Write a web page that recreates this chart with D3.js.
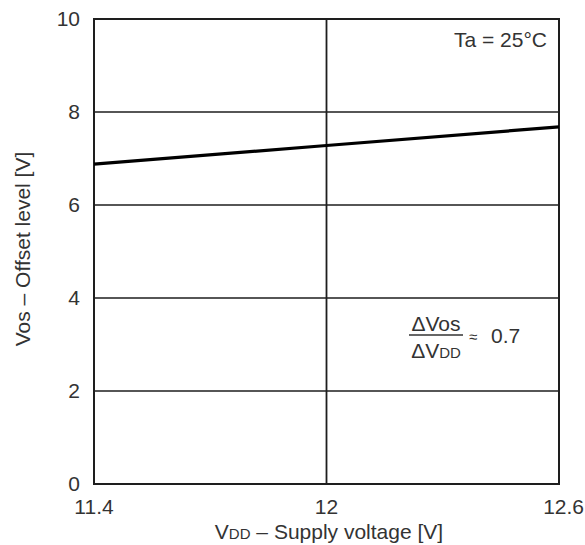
<!DOCTYPE html>
<html><head><meta charset="utf-8">
<script src="https://cdn.jsdelivr.net/npm/d3@7"></script>
<style>body{margin:0;background:#fff}svg{display:block}text{font-family:"Liberation Sans",Arial,sans-serif;fill:#333}</style>
</head><body><svg id="c" width="585" height="545"></svg>
<script>
const xTicks = [11.4, 12, 12.6];
const xTickLabels = ["11.4", "12", "12.6"];
const yTicks = [0, 2, 4, 6, 8, 10];
const yTickLabels = ["0", "2", "4", "6", "8", "10"];
const vddValues = [11.4, 12.0, 12.6];
const vosValues = [6.88, 7.28, 7.68];

const svg = d3.select("#c");
const L = 94, R = 559, T = 19, B = 484;
const x = d3.scaleLinear().domain([11.4, 12.6]).range([L, R]);
const y = d3.scaleLinear().domain([0, 10]).range([B, T]);
const fs = 21;

// horizontal gridlines
svg.selectAll("line.hg").data(yTicks.filter(d => d > 0 && d < 10)).enter().append("line")
  .attr("x1", L).attr("x2", R).attr("y1", d => y(d)).attr("y2", d => y(d))
  .attr("stroke", "#1e1e1e").attr("stroke-width", 1.6);
// vertical gridlines
svg.selectAll("line.vg").data(xTicks.filter(d => d > 11.4 && d < 12.6)).enter().append("line")
  .attr("y1", T).attr("y2", B).attr("x1", d => x(d)).attr("x2", d => x(d))
  .attr("stroke", "#1e1e1e").attr("stroke-width", 1.8);
// frame
svg.append("rect").attr("x", L).attr("y", T).attr("width", R - L).attr("height", B - T)
  .attr("fill", "none").attr("stroke", "#1e1e1e").attr("stroke-width", 2);

// data line
const pts = vddValues.map((v, i) => [v, vosValues[i]]);
svg.append("path").datum(pts)
  .attr("d", d3.line().x(d => x(d[0])).y(d => y(d[1])))
  .attr("fill", "none").attr("stroke", "#000").attr("stroke-width", 3.2);

// y tick labels
svg.selectAll("text.yt").data(yTicks).enter().append("text")
  .attr("x", 80).attr("y", d => y(d) + 7).attr("text-anchor", "end")
  .attr("font-size", fs).text((d, i) => yTickLabels[i]);
// x tick labels
svg.selectAll("text.xt").data(xTicks).enter().append("text")
  .attr("x", d => d === 12.6 ? 584 : x(d))
  .attr("y", 514).attr("text-anchor", d => d === 12.6 ? "end" : "middle")
  .attr("font-size", fs).text((d, i) => xTickLabels[i]);

// x title
const xt = svg.append("text").attr("x", 329).attr("y", 539).attr("text-anchor", "middle").attr("font-size", fs);
xt.append("tspan").text("V");
xt.append("tspan").attr("font-size", 15).text("DD");
xt.append("tspan").text(" – Supply voltage [V]");

// y title
svg.append("text").attr("transform", "translate(30,249) rotate(-90)").attr("text-anchor", "middle")
  .attr("font-size", fs).text("Vos – Offset level [V]");

// annotation
svg.append("text").attr("x", 547).attr("y", 47).attr("text-anchor", "end").attr("font-size", fs).text("Ta = 25°C");

svg.append("text").attr("x", 436).attr("y", 331).attr("text-anchor", "middle").attr("font-size", fs).text("ΔVos");
svg.append("line").attr("x1", 409).attr("x2", 463).attr("y1", 335).attr("y2", 335).attr("stroke", "#333").attr("stroke-width", 1.5);
const dv = svg.append("text").attr("x", 436).attr("y", 358).attr("text-anchor", "middle").attr("font-size", fs);
dv.append("tspan").text("ΔV");
dv.append("tspan").attr("font-size", 15).text("DD");
svg.append("text").attr("x", 469).attr("y", 342).attr("font-size", 15).text("≈");
svg.append("text").attr("x", 491).attr("y", 343).attr("font-size", fs).text("0.7");
</script></body></html>
